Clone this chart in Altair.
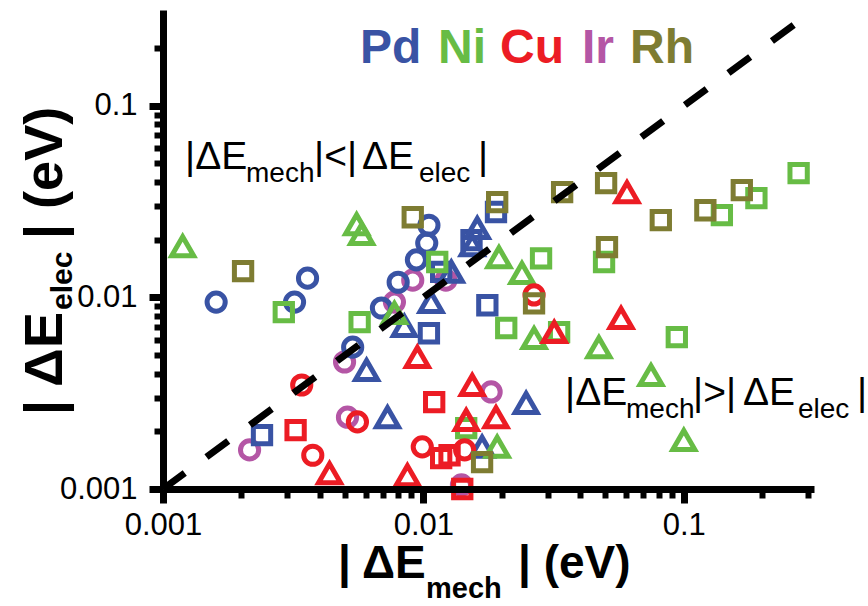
import altair as alt
import pandas as pd

# ---------------- data ----------------
elements = ["Pd", "Ni", "Cu", "Ir", "Rh"]
element_colors = ["#3953a4", "#67bc45", "#ec1c24", "#b456a5", "#7e7c32"]
draw_order = ["Ir", "Pd", "Ni", "Cu", "Rh"]

# |dE_mech| (x, eV), |dE_elec| (y, eV), marker shape
pd_x = [1.60e-3, 3.20e-3, 3.59e-3, 1.05e-2, 1.03e-2, 9.4e-3, 8.0e-3, 6.9e-3, 5.35e-3,
        2.40e-3, 1.05e-2, 1.17e-2, 1.53e-2, 1.76e-2, 1.90e-2,
        1.61e-2, 1.54e-2, 1.28e-2, 1.07e-2, 8.45e-3, 6.05e-3, 7.28e-3, 1.68e-2, 2.48e-2]
pd_y = [9.45e-3, 9.45e-3, 1.26e-2, 2.38e-2, 1.92e-2, 1.57e-2, 1.20e-2, 8.8e-3, 5.5e-3,
        1.91e-3, 6.5e-3, 1.36e-2, 1.99e-2, 9.1e-3, 2.79e-2,
        2.30e-2, 1.87e-2, 1.36e-2, 9.45e-3, 7.1e-3, 4.18e-3, 2.37e-3, 1.66e-3, 2.81e-3]
pd_shape = ["circle"] * 9 + ["square"] * 6 + ["triangle-up"] * 9

ni_x = [1.19e-3, 5.54e-3, 5.79e-3, 7.74e-3, 1.95e-2, 2.39e-2, 2.66e-2, 4.72e-2, 7.48e-2, 0.100, 1.92e-2,
        2.91e-3, 5.69e-3, 1.13e-2, 2.83e-2, 2.08e-2, 3.32e-2, 4.94e-2, 9.4e-2, 1.46e-2, 0.140, 0.190, 0.276]
ni_y = [1.85e-2, 2.41e-2, 2.14e-2, 8.28e-3, 1.62e-2, 1.34e-2, 6.13e-3, 5.5e-3, 3.93e-3, 1.80e-3, 1.66e-3,
        8.38e-3, 7.43e-3, 1.53e-2, 1.60e-2, 6.92e-3, 6.59e-3, 1.53e-2, 6.2e-3, 2.08e-3, 2.69e-2, 3.30e-2, 4.45e-2]
ni_shape = ["triangle-up"] * 11 + ["square"] * 12

cu_x = [9.48e-3, 1.54e-2, 1.46e-2, 1.90e-2, 4.36e-3, 8.68e-3, 3.18e-2, 5.74e-2, 6.05e-2,
        3.41e-3, 5.58e-3, 3.76e-3, 9.9e-3, 1.44e-2, 2.66e-2,
        3.23e-3, 1.10e-2, 1.17e-2, 1.26e-2, 1.41e-2]
cu_y = [4.88e-3, 3.49e-3, 2.29e-3, 2.37e-3, 1.21e-3, 1.18e-3, 6.59e-3, 7.8e-3, 3.54e-2,
        3.49e-3, 2.24e-3, 1.50e-3, 1.66e-3, 1.60e-3, 1.03e-2,
        2.03e-3, 2.84e-3, 1.45e-3, 1.50e-3, 1.0e-3]
cu_shape = ["triangle-up"] * 9 + ["circle"] * 6 + ["square"] * 5

ir_x = [9.1e-3, 7.74e-3, 1.22e-2, 4.98e-3, 5.11e-3, 2.15e-3, 1.82e-2, 1.40e-2]
ir_y = [1.23e-2, 9.45e-3, 1.23e-2, 4.6e-3, 2.37e-3, 1.60e-3, 3.21e-3, 1.05e-3]
ir_shape = ["circle"] * 8

rh_x = [2.03e-3, 9.1e-3, 1.92e-2, 2.66e-2, 1.68e-2, 3.41e-2, 5.03e-2, 5.07e-2, 8.16e-2, 0.121, 0.167]
rh_y = [1.37e-2, 2.62e-2, 3.14e-2, 9.3e-3, 1.38e-3, 3.54e-2, 3.95e-2, 1.83e-2, 2.53e-2, 2.85e-2, 3.63e-2]
rh_shape = ["square"] * 11

diag = [0.001, 0.3162]

x_major = [0.001, 0.01, 0.1]
x_minor = [0.002, 0.003, 0.004, 0.005, 0.006, 0.007, 0.008, 0.009,
           0.02, 0.03, 0.04, 0.05, 0.06, 0.07, 0.08, 0.09, 0.2, 0.3]
y_major = [0.001, 0.01, 0.1]
y_minor = [0.002, 0.003, 0.004, 0.005, 0.006, 0.007, 0.008, 0.009,
           0.02, 0.03, 0.04, 0.05, 0.06, 0.07, 0.08, 0.09, 0.2]

# ---------------- build ----------------
MARKER_SIZE = {"circle": 330, "square": 300, "triangle-up": 480}

series = {
    "Pd": (pd_x, pd_y, pd_shape),
    "Ni": (ni_x, ni_y, ni_shape),
    "Cu": (cu_x, cu_y, cu_shape),
    "Ir": (ir_x, ir_y, ir_shape),
    "Rh": (rh_x, rh_y, rh_shape),
}
rows = []
for el in draw_order:
    xs, ys, shs = series[el]
    for a, b, c in zip(xs, ys, shs):
        rows.append({"element": el, "x": a, "y": b, "shape": c, "msize": MARKER_SIZE[c]})
df = pd.DataFrame(rows)

xscale = alt.Scale(type="log", domain=[0.001, 0.3162], nice=False)
yscale = alt.Scale(type="log", domain=[0.001, 0.3162], nice=False)

FONT = "Liberation Sans"

major_x_axis = alt.Axis(values=x_major, orient="bottom", title=None, grid=False, format=".3~f",
                        domainColor="black", domainWidth=7, tickColor="black", tickSize=14, tickWidth=7,
                        labelFont=FONT, labelFontSize=31, labelColor="black", labelPadding=7,
                        labelOverlap=False, labelFlush=False, zindex=1)
major_y_axis = alt.Axis(values=y_major, orient="left", title=None, grid=False, format=".3~f",
                        domainColor="black", domainWidth=7, tickColor="black", tickSize=14, tickWidth=7,
                        labelFont=FONT, labelFontSize=31, labelColor="black", labelPadding=12,
                        labelOverlap=False, labelFlush=False, zindex=1)
minor_x_axis = alt.Axis(values=x_minor, orient="bottom", title=None, grid=False, labels=False,
                        domain=False, tickColor="black", tickSize=9, tickWidth=6, zindex=1)
minor_y_axis = alt.Axis(values=y_minor, orient="left", title=None, grid=False, labels=False,
                        domain=False, tickColor="black", tickSize=9, tickWidth=6, zindex=1)

points = alt.Chart(df).mark_point(filled=False, strokeWidth=5, opacity=1).encode(
    x=alt.X("x:Q", scale=xscale, axis=major_x_axis),
    y=alt.Y("y:Q", scale=yscale, axis=major_y_axis),
    color=alt.Color("element:N", scale=alt.Scale(domain=elements, range=element_colors), legend=None),
    shape=alt.Shape("shape:N", scale=None),
    size=alt.Size("msize:Q", scale=None),
)

diag_line = alt.Chart(pd.DataFrame({"x": diag, "y": diag})).mark_line(
    color="black", strokeWidth=7, strokeDash=[27, 27], strokeCap="butt"
).encode(
    x=alt.X("x:Q", scale=xscale, axis=minor_x_axis),
    y=alt.Y("y:Q", scale=yscale, axis=minor_y_axis),
)


def txt(s, px, py, size, weight="normal", color="black", angle=None):
    mk = dict(align="left", baseline="alphabetic", font=FONT, fontSize=size,
              fontWeight=weight, color=color)
    if angle is not None:
        mk["angle"] = angle
    return alt.Chart(pd.DataFrame({"t": [s]})).mark_text(**mk).encode(
        x=alt.value(px), y=alt.value(py), text="t:N")


texts = []
# element colour key
header_x = [197, 275, 337, 419, 467]
for el, col, hx in zip(elements, element_colors, header_x):
    texts.append(txt(el, hx, 53, 48, "bold", col))

# |dE_mech| < |dE_elec|
texts += [txt("|\u0394E", 22, 159, 39), txt("mech", 83, 172, 28),
          txt("|<|", 151, 159, 39), txt("\u0394E", 199, 159, 39),
          txt("elec", 256, 172, 28), txt("|", 315, 159, 39)]
# |dE_mech| > |dE_elec|
texts += [txt("|\u0394E", 402, 395, 39), txt("mech", 463, 408, 28),
          txt("|>|", 530, 395, 39), txt("\u0394E", 580, 395, 39),
          txt("elec", 635, 408, 28), txt("|", 694, 395, 39)]
# x axis title
texts += [txt("| \u0394E", 175, 568, 46, "bold"), txt("mech", 263, 588, 29, "bold"),
          txt("| (eV)", 355, 568, 46, "bold")]
# y axis title (rotated)
texts += [txt("| \u0394E", -101, 405, 54, "bold", angle=270),
          txt("elec", -91, 300, 30, "bold", angle=270),
          txt("| (eV)", -101, 229, 54, "bold", angle=270)]

chart = alt.layer(points, diag_line, *texts).resolve_axis(
    x="independent", y="independent"
).properties(
    width=651, height=479,
    autosize=alt.AutoSizeParams(type="none"),
    padding={"left": 163, "top": 10, "right": 54, "bottom": 117},
).configure_view(stroke=None)

chart.save("out.html", embed_options={"renderer": "svg", "actions": False})
